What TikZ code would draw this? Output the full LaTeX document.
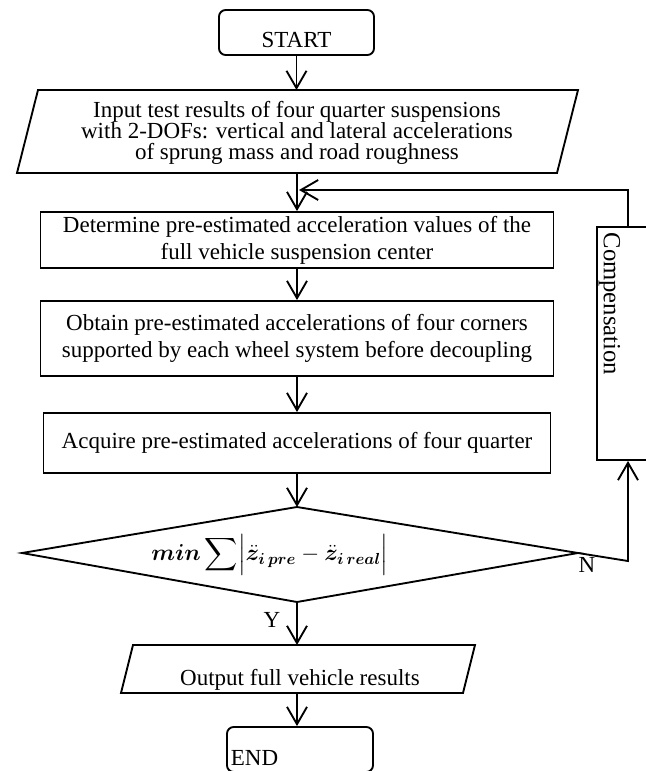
\documentclass[tikz,border=0pt]{standalone}
\usepackage{amsmath}
\usepackage{bm}
\usepackage{fontspec}
\setmainfont{Liberation Serif}
\usetikzlibrary{arrows.meta}
\begin{document}
\begin{tikzpicture}[x=0.75pt,y=-0.75pt, line width=1.4pt, line join=miter,
  every node/.style={font=\fontsize{17.25}{20.25}\selectfont},
  arr/.style={-{Straight Barb[length=13pt,width=15pt]}},
  box/.style={draw, rectangle, align=center, inner sep=0pt},
  term/.style={draw, rounded corners=5pt, inner sep=0pt, minimum width=116.25pt, minimum height=33.75pt},
  lbl/.style={inner sep=0pt}]
\useasboundingbox (0,0) rectangle (646,771);
\clip (0,0) rectangle (646,771);

% START
\node[term] (start) at (296.5,32.5) {};
\node[lbl] (starttext) at (296.5,40) {START};

% Input parallelogram
\coordinate (i1) at (38,90);
\coordinate (i2) at (578,90);
\coordinate (i3) at (557,173);
\coordinate (i4) at (17,173);
\draw (i1) -- (i2) -- (i3) -- (i4) -- cycle;
\node[align=center, lbl, font=\fontsize{17.25}{15.75}\selectfont] (input) at (297,133)
  {Input test results of four quarter suspensions\\with 2-DOFs: vertical and lateral accelerations\\of sprung mass and road roughness};
\coordinate (intop) at (296.5,90);
\coordinate (inbot) at (297,173);

% process boxes
\node[box, minimum width=384.75pt, minimum height=42pt] (r1) at (297,240)
  {Determine pre-estimated acceleration values of the\\full vehicle suspension center};
\node[box, minimum width=384.75pt, minimum height=56.25pt] (r2) at (297,338.5)
  {Obtain pre-estimated accelerations of four corners\\supported by each wheel system before decoupling};
\node[box, minimum width=380.25pt, minimum height=45pt] (r3) at (297,443)
  {Acquire pre-estimated accelerations of four quarter};

% decision diamond
\coordinate (dtop) at (297,507);
\coordinate (dright) at (578,553);
\coordinate (dbot) at (297,602);
\coordinate (dleft) at (22,553);
\draw (dtop) -- (dright) -- (dbot) -- (dleft) -- cycle;
\node[lbl, font=\fontsize{16.5}{19}\selectfont] (crit) at (270,555)
  {$\bm{min}\displaystyle\sum\Bigl|\bm{\ddot{z}_{i\,pre}}-\bm{\ddot{z}_{i\,real}}\Bigr|$};

% output parallelogram
\coordinate (o1) at (133,645);
\coordinate (o2) at (475,645);
\coordinate (o3) at (463,693);
\coordinate (o4) at (121,693);
\draw (o1) -- (o2) -- (o3) -- (o4) -- cycle;
\node[lbl, anchor=base] (out) at (300,685) {Output full vehicle results};
\coordinate (outtop) at (297,645);
\coordinate (outbot) at (297,693);

% END
\node[term, minimum width=109.5pt] (end) at (300,749.5) {};
\node[lbl, anchor=west] (endtext) at (230,758) {END};

% Compensation
\node[draw, inner sep=0pt, minimum width=60pt, minimum height=174.75pt] (comp) at (637,343.5) {};
\node[rotate=-90, anchor=south west, inner sep=0.5pt, font=\fontsize{18.5}{20}\selectfont] (comptext) at (597,231) {Compensation};

% connectors
\coordinate (nend) at (628,561);
\coordinate (loopc) at (628,190);
\coordinate (looptip) at (299,190);
\draw[arr] (start) -- (intop);
\draw[arr] (inbot) -- (r1);
\draw[arr] (r1) -- (r2);
\draw[arr] (r2) -- (r3);
\draw[arr] (r3) -- (dtop);
\draw[arr] (dbot) -- (outtop);
\draw[arr] (outbot) -- (outbot |- end.north);
\draw[arr] (dright) -- (nend) -- (comp.south -| nend);
\draw[arr] (comp.north -| nend) -- (loopc) -- (looptip);

% branch labels
\node[lbl] (ylab) at (272,620) {Y};
\node[lbl] (nlab) at (587,565) {N};
\end{tikzpicture}
\end{document}
